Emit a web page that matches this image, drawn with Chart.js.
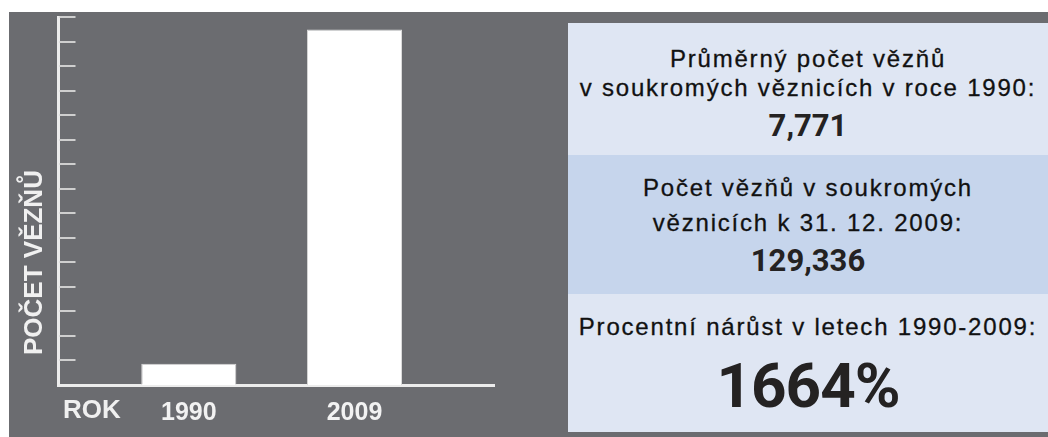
<!DOCTYPE html>
<html><head><meta charset="utf-8">
<script src="https://cdn.jsdelivr.net/npm/chart.js@4"></script>
<style>
html,body{margin:0;padding:0;background:#fff;width:1048px;height:437px;overflow:hidden;}
#bg{position:absolute;left:9px;top:12px;width:1039px;height:425px;background:#6b6c70;}
#cv{position:absolute;left:0;top:0;}
.ttl{position:absolute;font-family:'Liberation Sans',Arial,sans-serif;font-weight:bold;font-size:26px;line-height:26px;color:#f0f0f0;white-space:nowrap;}
#ytitle{left:19.7px;top:355px;transform-origin:0 0;transform:rotate(-90deg);}
#xtitle{left:63px;top:396px;}
.sec{position:absolute;left:568px;width:480px;}
.line{position:absolute;left:0;width:480px;text-align:center;white-space:nowrap;font-family:'Liberation Sans',Arial,sans-serif;font-size:24px;line-height:24px;letter-spacing:1.8px;color:#111;-webkit-text-stroke:0.3px #111;}
.num{position:absolute;left:0;width:480px;text-align:center;white-space:nowrap;font-family:Roboto,sans-serif;font-weight:700;color:#242222;}
</style></head>
<body>
<div id="bg"></div>
<canvas id="cv" width="568" height="441"></canvas>
<div id="ytitle" class="ttl"></div>
<div id="xtitle" class="ttl"></div>
<div id="panel"></div>
<script>
// ---- data ----
const years = [1990, 2009];
const prisoners = [7771, 129336];
const yTitle = 'POČET VĚZŇŮ';
const xTitle = 'ROK';
const box1Lines = ['Průměrný počet vězňů', 'v soukromých věznicích v roce 1990:'];
const box2Lines = ['Počet vězňů v soukromých', 'věznicích k 31. 12. 2009:'];
const box3Lines = ['Procentní nárůst v letech 1990-2009:'];
const growthPct = [1664];

// ---- titles ----
document.getElementById('ytitle').textContent = yTitle;
document.getElementById('xtitle').textContent = xTitle;

// ---- info panel ----
const fmt = v => v.toLocaleString('en-US');
const sections = [
  {top: 23, height: 132, bg: '#dfe6f3', lines: box1Lines, lineTops: [47.4, 76.4], num: fmt(prisoners[0]), numTop: 110, numSize: 31, ls: 0},
  {top: 155, height: 139, bg: '#c6d5ec', lines: box2Lines, lineTops: [176.4, 211.4], num: fmt(prisoners[1]), numTop: 244.6, numSize: 31, ls: 0},
  {top: 294, height: 138, bg: '#dfe6f3', lines: box3Lines, lineTops: [315.4], num: growthPct[0] + '%', numTop: 355.1, numSize: 62, ls: -1}
];
const panel = document.getElementById('panel');
sections.forEach(s => {
  const d = document.createElement('div');
  d.className = 'sec';
  d.style.top = s.top + 'px'; d.style.height = s.height + 'px'; d.style.background = s.bg;
  s.lines.forEach((t, i) => {
    const l = document.createElement('div');
    l.className = 'line'; l.textContent = t;
    l.style.top = (s.lineTops[i] - s.top) + 'px';
    d.appendChild(l);
  });
  const n = document.createElement('div');
  n.className = 'num'; n.textContent = s.num;
  n.style.top = (s.numTop - s.top) + 'px';
  n.style.fontSize = s.numSize + 'px'; n.style.lineHeight = s.numSize + 'px';
  n.style.letterSpacing = s.ls + 'px';
  d.appendChild(n);
  panel.appendChild(d);
});

// ---- chart ----
const tickMarks = {
  id: 'tickMarks',
  afterDraw(chart) {
    const y = chart.scales.y, ctx = chart.ctx, left = chart.chartArea.left;
    ctx.save();
    ctx.strokeStyle = '#cfcfcf';
    ctx.lineWidth = 2;
    ctx.beginPath();
    y.ticks.forEach(t => {
      if (t.value <= 0) return;
      const py = Math.round(y.getPixelForValue(t.value));
      ctx.moveTo(left + 1.5, py);
      ctx.lineTo(left + 17.5, py);
    });
    ctx.stroke();
    ctx.restore();
  }
};

new Chart(document.getElementById('cv'), {
  type: 'bar',
  data: {
    datasets: [{
      data: years.map((x, i) => ({x: x, y: prisoners[i]})),
      backgroundColor: '#ffffff',
      borderColor: '#d9d9d9',
      borderWidth: 1,
      borderSkipped: 'bottom',
      barPercentage: 0.574,
      categoryPercentage: 1
    }]
  },
  options: {
    responsive: false,
    animation: false,
    devicePixelRatio: 1,
    layout: {padding: {left: 58, top: 17, right: 74, bottom: 0}},
    plugins: {legend: {display: false}, tooltip: {enabled: false}},
    scales: {
      x: {
        type: 'linear', min: 1975, max: 2025, offset: false,
        afterBuildTicks: s => { s.ticks = years.map(v => ({value: v})); },
        grid: {display: false, drawTicks: false, offset: false},
        border: {display: true, color: '#ececec', width: 3},
        ticks: {
          color: '#f2f2f2',
          font: {family: "'Liberation Sans', Arial, sans-serif", size: 25, weight: 'bold'},
          padding: 13, maxRotation: 0, autoSkip: false,
          callback: v => String(v)
        }
      },
      y: {
        min: 0, max: 133900,
        ticks: {display: false, stepSize: 8930, includeBounds: false},
        grid: {display: false, drawTicks: false},
        border: {display: true, color: '#ececec', width: 3}
      }
    }
  },
  plugins: [tickMarks]
});
</script>
</body></html>
